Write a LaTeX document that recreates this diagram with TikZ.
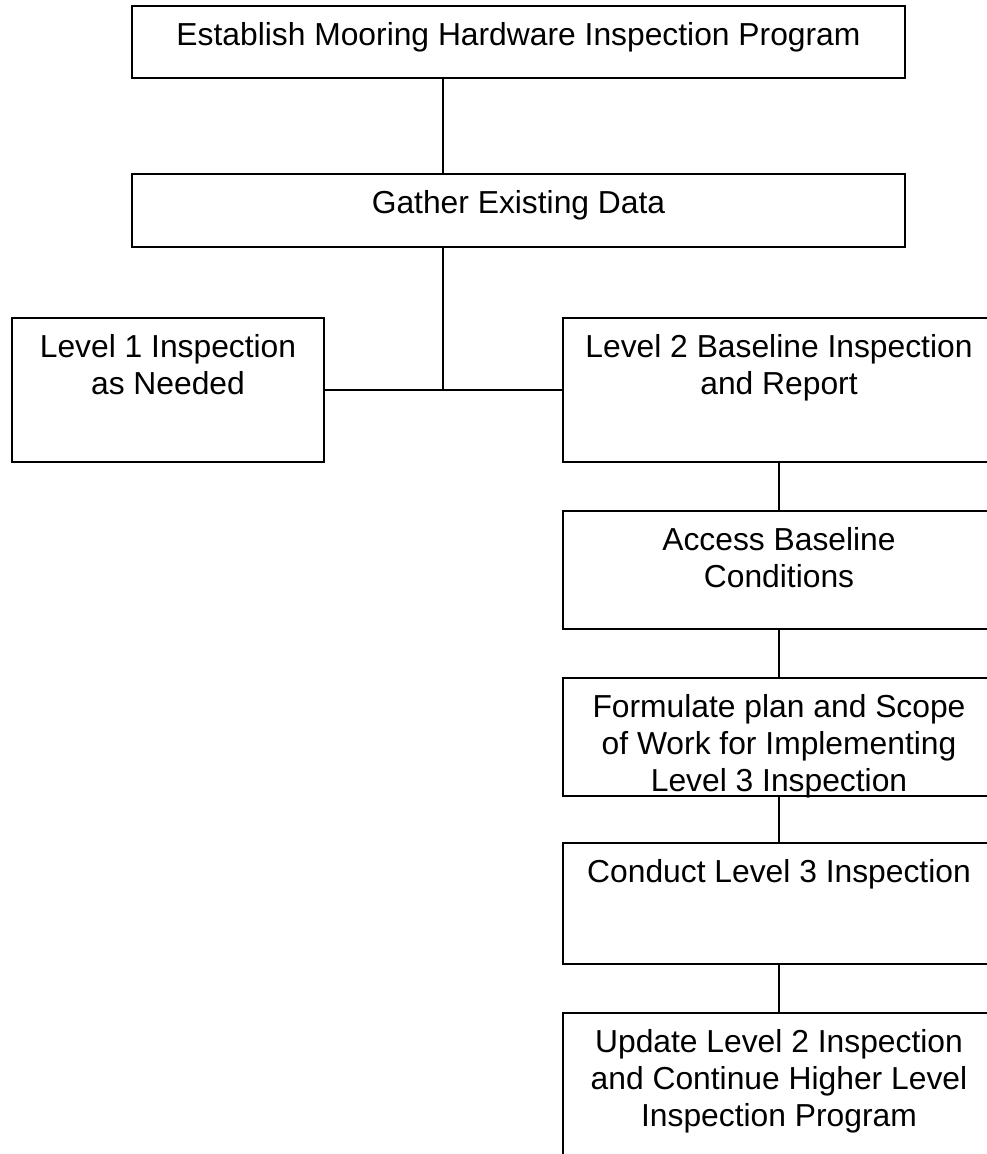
\documentclass[tikz,border=0pt]{standalone}
\usepackage{fontspec}
\setmainfont{Liberation Sans}
\begin{document}
\begin{tikzpicture}[x=1pt,y=-1pt,
  box/.style={draw=black,line width=1.5pt,inner sep=0pt,minimum width=#1},
  conn/.style={draw=black,line width=1.5pt},
  txt/.style={inner sep=0pt,align=center,anchor=north,font=\fontsize{31.8}{37}\selectfont}]
\clip (0,0) rectangle (987,1154);
\fill[white] (0,0) rectangle (987,1154);
% boxes
\node[box=773pt,minimum height=72pt] (b1) at (518.5,42) {};
\node[box=773pt,minimum height=73pt] (b2) at (518.5,210.5) {};
\node[box=312pt,minimum height=144pt] (b3) at (168,390) {};
\node[box=432pt,minimum height=144pt] (b4) at (779,390) {};
\node[box=432pt,minimum height=118pt] (b5) at (779,570) {};
\node[box=432pt,minimum height=118pt] (b6) at (779,737) {};
\node[box=432pt,minimum height=121pt] (b7) at (779,903.5) {};
\node[box=432pt,minimum height=157pt] (b8) at (779,1091.5) {};
% texts
\node[txt] (t1) at ([yshift=-14pt]b1.north) {\strut Establish Mooring Hardware Inspection Program};
\node[txt] (t2) at ([yshift=-14pt]b2.north) {\strut Gather Existing Data};
\node[txt] (t3) at ([yshift=-14pt]b3.north) {\strut Level 1 Inspection\\as Needed};
\node[txt] (t4) at ([yshift=-14pt]b4.north) {\strut Level 2 Baseline Inspection\\and Report};
\node[txt] (t5) at ([yshift=-14pt]b5.north) {\strut Access Baseline\\Conditions};
\node[txt] (t6) at ([yshift=-14pt]b6.north) {\strut Formulate plan and Scope\\of Work for Implementing\\Level 3 Inspection};
\node[txt] (t7) at ([yshift=-14pt]b7.north) {\strut Conduct Level 3 Inspection};
\node[txt] (t8) at ([yshift=-14pt]b8.north) {\strut Update Level 2 Inspection\\and Continue Higher Level\\Inspection Program};
% connectors
\coordinate (j) at (443,390);
\draw[conn] (j |- b1.south) -- (j |- b2.north);
\draw[conn] (j |- b2.south) -- (j);
\draw[conn] (b3.east) -- (b4.west);
\draw[conn] (b4.south) -- (b5.north);
\draw[conn] (b5.south) -- (b6.north);
\draw[conn] (b6.south) -- (b7.north);
\draw[conn] (b7.south) -- (b8.north);
\end{tikzpicture}
\end{document}
